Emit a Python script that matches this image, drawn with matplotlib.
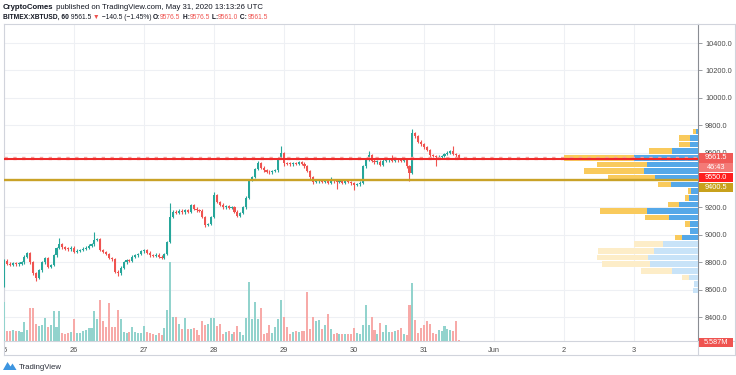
import matplotlib
matplotlib.use("Agg")
import matplotlib.pyplot as plt
from matplotlib.lines import Line2D
from matplotlib.patches import Polygon, Rectangle
from matplotlib.transforms import Bbox, IdentityTransform

W, H = 736, 375
FONT = ["Liberation Sans", "DejaVu Sans"]

# hourly XBTUSD candles, May 25 00:00 -> May 31 12:00 (UTC)
days = ["25", "26", "27", "28", "29", "30", "31", "Jun", "2", "3"]
first_open = 8707
closes = [
    8810, 8790, 8780, 8795, 8785, 8790, 8800, 8840, 8867, 8800,
    8720, 8685, 8740, 8800, 8830, 8765, 8780, 8850, 8904, 8930,
    8910, 8900, 8895, 8905, 8874, 8885, 8890, 8900, 8905, 8920,
    8930, 8962, 8970, 8890, 8875, 8860, 8830, 8820, 8730, 8720,
    8760, 8800, 8816, 8810, 8840, 8850, 8860, 8880, 8890, 8870,
    8850, 8845, 8855, 8840, 8830, 8860, 8947, 9130, 9170, 9160,
    9175, 9165, 9180, 9170, 9217, 9190, 9180, 9175, 9130, 9072,
    9080, 9130, 9290, 9240, 9220, 9200, 9210, 9195, 9200, 9170,
    9140, 9160, 9200, 9270, 9400, 9422, 9480, 9524, 9490, 9470,
    9460, 9455, 9465, 9470, 9560, 9597, 9524, 9520, 9515, 9525,
    9520, 9530, 9520, 9500, 9466, 9420, 9386, 9390, 9400, 9385,
    9395, 9380, 9400, 9390, 9385, 9395, 9380, 9390, 9385, 9375,
    9365, 9370, 9380, 9500, 9546, 9580, 9540, 9530, 9535, 9510,
    9540, 9545, 9550, 9540, 9550, 9545, 9540, 9550, 9500, 9451,
    9743, 9720, 9680, 9660, 9640, 9620, 9580, 9575, 9565, 9570,
    9575, 9590, 9600, 9610, 9590, 9580, 9561.5,
]
highs = {19: 8978, 31: 9020, 57: 9232, 72: 9310, 87: 9540, 95: 9650,
         112: 9420, 125: 9610, 133: 9580, 140: 9770, 154: 9645}
lows = {0: 8620, 11: 8660, 39: 8700, 69: 9060, 96: 9505, 106: 9370,
        114: 9335, 120: 9330, 139: 9395, 148: 9500}
volumes = [  # millions of contracts
    156, 40, 40, 44, 40, 40, 36, 76, 44, 132, 132, 68, 60, 64, 92, 56, 64, 120, 56, 120,
    32, 28, 32, 36, 88, 32, 32, 40, 44, 52, 52, 120, 88, 164, 80, 56, 152, 56, 56, 124,
    88, 36, 32, 36, 56, 36, 32, 32, 60, 36, 32, 28, 24, 32, 24, 52, 124, 316, 96, 96,
    68, 48, 92, 48, 48, 52, 44, 24, 80, 64, 68, 92, 92, 60, 68, 28, 36, 40, 28, 36,
    60, 36, 24, 92, 236, 88, 156, 88, 132, 28, 32, 64, 32, 56, 88, 164, 96, 56, 28, 36,
    40, 36, 40, 40, 196, 48, 96, 80, 84, 48, 64, 108, 48, 28, 32, 28, 28, 28, 28, 28,
    52, 32, 28, 64, 144, 64, 96, 44, 28, 72, 36, 64, 36, 36, 40, 44, 52, 28, 24, 144,
    232, 84, 32, 52, 64, 80, 68, 32, 28, 44, 40, 60, 48, 44, 40, 80, 5.587,
]

# visible-range volume profile, rows from bottom to top
vp_low, vp_high = 8568, 9780
vp_up = [5, 4, 9, 26, 48, 50, 44, 35, 16, 8, 8, 29, 51, 19, 9, 7, 27, 43, 54, 51, 64, 26, 8, 8, 2]
vp_down = [0, 0, 7, 31, 48, 51, 56, 29, 7, 0, 5, 24, 47, 11, 4, 3, 13, 47, 60, 50, 70, 23, 11, 11, 3]
vp_value_area_start = 8

price_ticks = [8400, 8600, 8800, 9000, 9200, 9400, 9600, 9800, 10000, 10200, 10400]
hidden_ticks = [9400]  # covered by the level labels
last_price = 9561.5
red_level = 9550.0
gold_level = 9400.5
countdown = "46:43"
last_volume = "5.587M"

UP, DOWN = "#26a69a", "#ef5350"
UP_VOL, DOWN_VOL = "#92d3cd", "#f7aaa8"
VP_UP, VP_DOWN = "#55a8e8", "#f9ca5c"
VP_UP_FADE, VP_DOWN_FADE = "#c8e3f8", "#fdedc8"
TEXT = "#131722"


def fig_xy(x, y):
    return x / W, 1 - y / H


fig = plt.figure(figsize=(W / 100, H / 100), dpi=100)
fig.patch.set_facecolor("white")
ax = fig.add_axes([4 / W, 1 - 341 / H, 694 / W, 317 / H])
ax_vol = ax.twinx()
ax_vp = ax.twiny()
ax.yaxis.tick_right()
ax.set_axisbelow(True)

# candles
opens = [first_open] + closes[:-1]
idx = list(range(len(closes)))
colors = [UP if c >= o else DOWN for o, c in zip(opens, closes)]
hi = [highs.get(i, max(o, c) + 10) for i, (o, c) in enumerate(zip(opens, closes))]
lo = [lows.get(i, min(o, c) - 10) for i, (o, c) in enumerate(zip(opens, closes))]
ax.vlines(idx, lo, hi, colors=colors, lw=0.8, zorder=3)
ax.bar(idx, [max(abs(c - o), 6) for o, c in zip(opens, closes)],
       bottom=[min(o, c) for o, c in zip(opens, closes)],
       width=0.72, color=colors, lw=0, zorder=4)

# volume
ax_vol.bar(idx, volumes, width=0.7, lw=0,
           color=[UP_VOL if c == UP else DOWN_VOL for c in colors])
ax_vol.set_ylim(0, 1268)
ax_vol.set_yticks([])
for s in ax_vol.spines.values():
    s.set_visible(False)

# volume profile, anchored on the right edge
n_rows = len(vp_up)
step = (vp_high - vp_low) / n_rows
centers = [vp_low + step * (k + 0.5) for k in range(n_rows)]
up_cols = [VP_UP if k >= vp_value_area_start else VP_UP_FADE for k in range(n_rows)]
dn_cols = [VP_DOWN if k >= vp_value_area_start else VP_DOWN_FADE for k in range(n_rows)]
ax_vp.barh(centers, vp_up, height=step * 0.84, color=up_cols, lw=0, zorder=2)
ax_vp.barh(centers, vp_down, left=vp_up, height=step * 0.84, color=dn_cols, lw=0, zorder=2)
ax_vp.set_xlim(694, 0)
ax_vp.xaxis.set_visible(False)
for s in ax_vp.spines.values():
    s.set_visible(False)

# horizontal levels
ax_vp.axhline(gold_level, color="#c9a227", lw=1.7, zorder=5)
ax_vp.axhline(last_price, color="#f7a3a1", lw=2.4, ls=":", zorder=5)
ax_vp.axhline(red_level, color="#ee2a2a", lw=1.5, zorder=6)

# axes setup
ax.set_xlim(0, 237.9)
ax.set_ylim(8225, 10539)
ax.set_yticks(price_ticks)
ax.set_yticklabels(["" if v in hidden_ticks else f"{v:.1f}" for v in price_ticks])
ax.set_xticks(range(0, 24 * len(days), 24))
ax.set_xticklabels(days)
ax.grid(True, color="#eef0f4", lw=0.8)
ax.tick_params(axis="y", right=True, left=False, length=3, width=0.6, color="#8a8d93",
               labelsize=5.3, labelcolor="#4a4a4a", pad=2)
ax.tick_params(axis="x", length=0, labelsize=5.3, labelcolor="#4a4a4a", pad=4)
for lab in ax.get_yticklabels() + ax.get_xticklabels():
    lab.set_family(FONT)
for lab in ax.get_xticklabels():
    lab.set_clip_box(Bbox.from_extents(4, 0, W, H))
    lab.set_clip_on(True)
for name, s in ax.spines.items():
    s.set_color("#8a8d93" if name == "right" else "#d1d4dc")
    s.set_linewidth(0.8)


# price / volume labels on the scale
def scale_label(price, dy, text, bg, axis=ax):
    y_disp = axis.transData.transform((0, price))[1] - dy
    fig.add_artist(Rectangle((699, y_disp - 4.6), 34, 9.2, transform=IdentityTransform(),
                             facecolor=bg, edgecolor="none", zorder=5))
    fig.text(716 / W, y_disp / H, text, color="white", fontsize=5.3, family=FONT,
             ha="center", va="center", zorder=6)


scale_label(last_price, 0, f"{last_price:.1f}", "#f05a57")
scale_label(last_price, 9.6, countdown, "#f37a77")
scale_label(red_level, 18, f"{red_level:.1f}", "#ff1f1f")
scale_label(gold_level, 7.5, f"{gold_level:.1f}", "#c8a11c")
scale_label(volumes[-1], 3, last_volume, "#ef5350", axis=ax_vol)

# frame of the time scale
for xs, ys in [((4, 735), (355, 355)), ((4, 4), (341, 355)), ((698, 698), (341, 355)),
               ((735, 735), (24, 355)), ((698, 735), (24, 24)), ((698, 735), (341, 341))]:
    fig.add_artist(Line2D([x / W for x in xs], [1 - y / H for y in ys],
                          transform=fig.transFigure, color="#d1d4dc", lw=0.8))

# header
renderer = fig.canvas.get_renderer()


def text_width(s, size, weight):
    t1 = fig.text(0, 0, "|" + s + "|", fontsize=size, fontweight=weight, family=FONT)
    t2 = fig.text(0, 0, "||", fontsize=size, fontweight=weight, family=FONT)
    w = t1.get_window_extent(renderer).width - t2.get_window_extent(renderer).width
    t1.remove()
    t2.remove()
    return w


def draw_runs(x, y, runs, size):
    for s, color, weight in runs:
        fig.text(*fig_xy(x, y), s, color=color, fontsize=size, fontweight=weight,
                 family=FONT, va="baseline", ha="left")
        x += text_width(s, size, weight)


line1 = [("CryptoComes", TEXT, "bold"),
         (" published on TradingView.com, May 31, 2020 13:13:26 UTC", TEXT, "normal")]
line2 = [("BITMEX:XBTUSD, 60", TEXT, "bold"), (" 9561.5 ", TEXT, "normal"),
         ("▼", DOWN, "normal"), (" \u2212140.5 (\u22121.45%) ", TEXT, "normal"),
         ("O:", TEXT, "bold"), ("9576.5", DOWN, "normal"),
         (" H:", TEXT, "bold"), ("9576.5", DOWN, "normal"),
         (" L:", TEXT, "bold"), ("9561.0", DOWN, "normal"),
         (" C:", TEXT, "bold"), ("9561.5", DOWN, "normal")]
size1 = 10 * 259 / sum(text_width(s, 10, w) for s, _, w in line1)
size2 = 10 * 266 / sum(text_width(s, 10, w) for s, _, w in line2)
draw_runs(3, 9.3, line1, size1)
draw_runs(3, 18.8, line2, size2)

# footer logo
logo = [(3, 370), (7.5, 362), (10.5, 366.5), (12.5, 363.5), (16.5, 370)]
fig.add_artist(Polygon([fig_xy(x, y) for x, y in logo], closed=True,
                       transform=fig.transFigure, facecolor="#3d95e0", edgecolor="none"))
fig.text(*fig_xy(18.5, 369), "TradingView", fontsize=5.6, color="#2a2e39", family=FONT,
         va="baseline", ha="left")

fig.savefig("out.png", dpi=100)
